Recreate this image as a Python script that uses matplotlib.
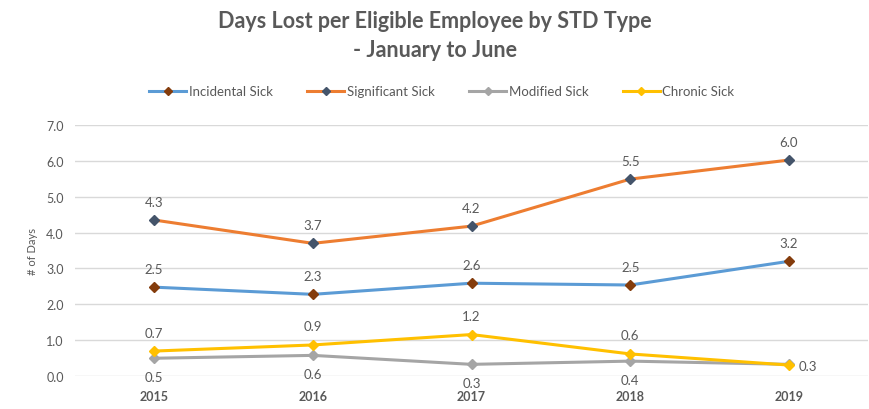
import matplotlib.pyplot as plt

plt.rcParams['font.family'] = ['Lato', 'DejaVu Sans']

years = ['2015', '2016', '2017', '2018', '2019']
incidental = [2.48, 2.28, 2.59, 2.54, 3.2]
significant = [4.35, 3.7, 4.18, 5.49, 6.02]
modified = [0.5, 0.58, 0.33, 0.42, 0.33]
chronic = [0.7, 0.87, 1.16, 0.62, 0.31]

fig = plt.figure(figsize=(8.7, 4.1), dpi=100)
ax = fig.add_axes([0.086, 0.080, 0.912, 0.613])

x = range(len(years))
series = [
    ("Incidental Sick", incidental, '#5B9BD5', '#843C0C'),
    ("Significant Sick", significant, '#ED7D31', '#44546A'),
    ("Modified Sick", modified, '#A5A5A5', '#A5A5A5'),
    ("Chronic Sick", chronic, '#FFC000', '#FFC000'),
]
for name, vals, lc, mc in series:
    ax.plot(x, vals, color=lc, lw=2.2, marker='D', ms=5.5, mfc=mc, mec=mc, label=name)

# data labels
for vals, below in [(incidental, False), (significant, False), (chronic, False), (modified, True)]:
    for i, v in enumerate(vals):
        if vals is modified and i == 4:
            continue
        if vals is chronic and i == 4:
            ax.annotate(f"{v:.1f}", (i, v), xytext=(7, -1), textcoords='offset points',
                        ha='left', va='center', fontsize=9.5, color='#595959')
            continue
        off = -9 if below else 9
        ax.annotate(f"{v:.1f}", (i, v), xytext=(0, off), textcoords='offset points',
                    ha='center', va='top' if below else 'bottom', fontsize=9.5, color='#595959')

ax.set_xlim(-0.5, 4.5)
ax.set_ylim(0, 7)
ax.set_yticks([0, 1, 2, 3, 4, 5, 6, 7])
ax.set_yticklabels([f"{t:.1f}" for t in range(8)])
ax.set_xticks(list(x))
ax.set_xticklabels(years, fontweight='bold')
ax.tick_params(axis='both', length=0, labelsize=9, colors='#595959', pad=8)
ax.tick_params(axis='x', pad=10)
ax.grid(axis='y', color='#D9D9D9', lw=1)
ax.set_axisbelow(True)
for s in ax.spines.values():
    s.set_visible(False)
ax.set_ylabel("# of Days", fontsize=8, color='#595959', labelpad=6)

fig.text(0.5, 0.912, "Days Lost per Eligible Employee by STD Type\n- January to June",
         ha='center', va='center', fontsize=15.5, fontweight='bold', color='#595959',
         linespacing=1.45)
fig.legend(loc='center', bbox_to_anchor=(0.508, 0.775), ncol=4, frameon=False,
           fontsize=9.5, labelcolor='#595959', handlelength=2.8, columnspacing=2.6,
           handletextpad=0.2, markerscale=0.8)

fig.savefig("out.png", dpi=100)
